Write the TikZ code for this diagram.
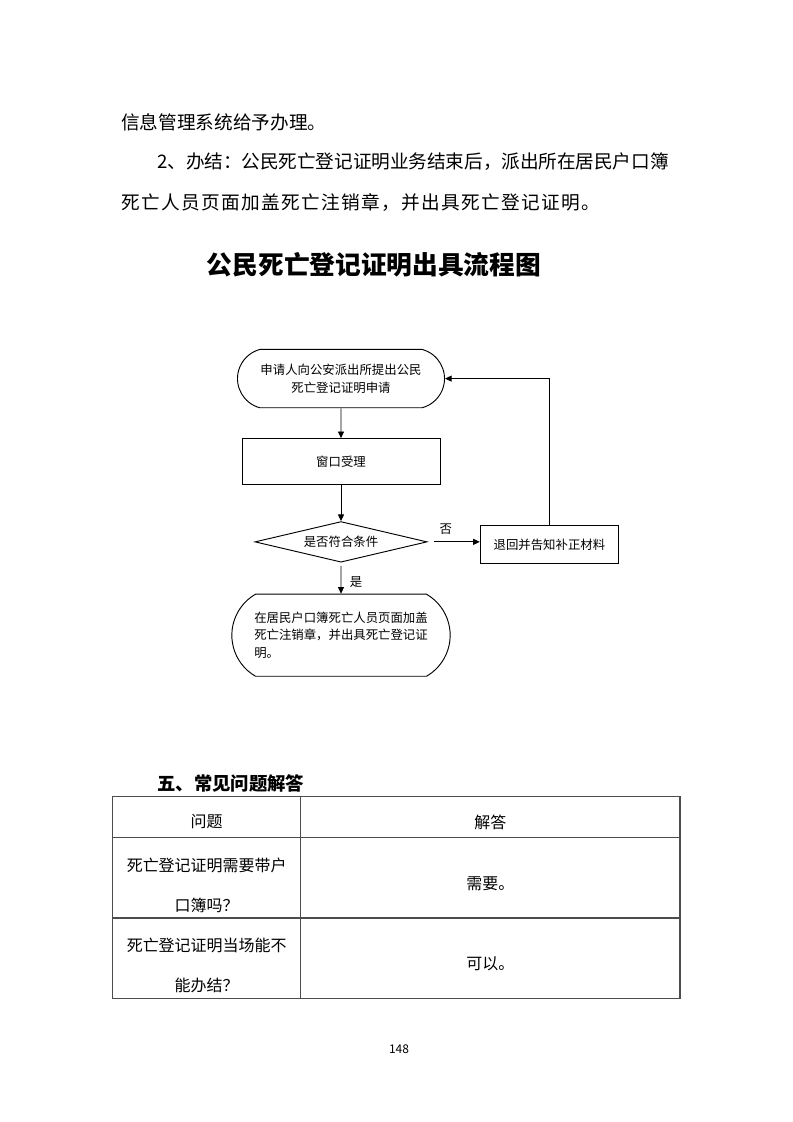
\documentclass[tikz,border=0pt]{standalone}
\usepackage{fontspec}
\setmainfont{Noto Sans CJK SC}
\usetikzlibrary{positioning, arrows.meta, shapes.geometric, shapes.misc}

\begin{document}
\begin{tikzpicture}[
        x=0.75067pt, y=-0.75067pt,
        node distance=0.8cm,
        body/.style={anchor=west, inner sep=0pt, font=\fontsize{14pt}{16pt}\selectfont},
        cell/.style={inner sep=0pt, align=center, font=\fontsize{12pt}{30pt}\selectfont},
        terminal/.style={rounded rectangle, draw, line width=0.7pt, inner sep=0pt, align=center, font=\fontsize{9.3pt}{13.2pt}\selectfont},
        process/.style={rectangle, draw, line width=0.7pt, inner sep=0pt, align=center, font=\fontsize{9.3pt}{13.2pt}\selectfont},
        decision/.style={diamond, draw, line width=0.7pt, inner sep=0pt, aspect=4.23, minimum width=129.2pt, minimum height=30.5pt, font=\fontsize{9.3pt}{13.2pt}\selectfont},
        arrow/.style={-{Triangle[length=5pt, width=4.5pt]}, line width=0.7pt},
        tableline/.style={line width=0.9pt, black!70}
    ]
%
    \fill[white] (0,0) rectangle (793,1122);
    \useasboundingbox (0,0) rectangle (793,1122);
%
    % Page text
    \node[body] (line1) at (121,122) {信息管理系统给予办理。};
    \node[body] (line2) at (157,162) {\addfontfeature{LetterSpace=-0.5}2、办结：公民死亡登记证明业务结束后，派出所在居民户口簿};
    \node[body] (line3) at (121,203) {\addfontfeature{LetterSpace=7.4}死亡人员页面加盖死亡注销章，并出具死亡登记证明。};
    \node[inner sep=0pt, font=\bfseries\fontsize{19.3pt}{22pt}\selectfont] (title) at (374,265) {公民死亡登记证明出具流程图};
%
    % Nodes
    \node[terminal, rounded rectangle arc length=150, minimum width=155.4pt, minimum height=43.8pt] (apply) at (341,378.6) {申请人向公安派出所提出公民\\死亡登记证明申请};
    \node[process, below=0.79cm of apply, minimum width=148.6pt, minimum height=34.5pt] (window) {窗口受理};
    \node[decision, below=0.95cm of window] (check) {是否符合条件};
    \node[process, right=1.38cm of check, yshift=-2pt, minimum width=103.8pt, minimum height=28.5pt] (reject) {退回并告知补正材料};
    \node[terminal, rounded rectangle arc length=120, below=0.82cm of check, minimum width=163.9pt, minimum height=61.6pt, align=left] (issue) {在居民户口簿死亡人员页面加盖\\死亡注销章，并出具死亡登记证\\明。};
%
    % Arrows
    \draw[arrow] (apply) -- (window);
    \draw[arrow] (window) -- (check);
    \draw[arrow, shorten <=4.5pt] (check) -- (check -| reject.west) node[pos=0.35, above=2pt, font=\fontsize{9.3pt}{11pt}\selectfont] {否};
    \draw[arrow] (reject.north) |- (apply.east);
    \draw[arrow, shorten <=2.5pt] (check) -- (issue) node[pos=0.62, right=3pt, font=\fontsize{9.3pt}{11pt}\selectfont] {是};
%
    % FAQ table
    \node[anchor=west, inner sep=0pt, font=\bfseries\fontsize{13.8pt}{16pt}\selectfont] (faq) at (157,783) {五、常见问题解答};
    \draw[tableline] (112.7,796.7) rectangle (680,998.5);
    \draw[tableline] (112.7,837.5) -- (680,837.5);
    \draw[tableline] (112.7,918) -- (680,918);
    \draw[tableline] (300.7,796.7) -- (300.7,998.5);
    \node[cell] (qhead) at (206.7,822) {问题};
    \node[cell] (ahead) at (490.4,822) {解答};
    \node[cell] (q1) at (206.7,885.5) {死亡登记证明需要带户\\口簿吗？};
    \node[cell] (a1) at (490.4,884) {需要。};
    \node[cell] (q2) at (206.7,965.5) {死亡登记证明当场能不\\能办结？};
    \node[cell] (a2) at (490.4,964) {可以。};
%
    \node[inner sep=0pt, font=\fontsize{9pt}{10pt}\selectfont] (pageno) at (399,1049) {148};
%
\end{tikzpicture}
\end{document}
